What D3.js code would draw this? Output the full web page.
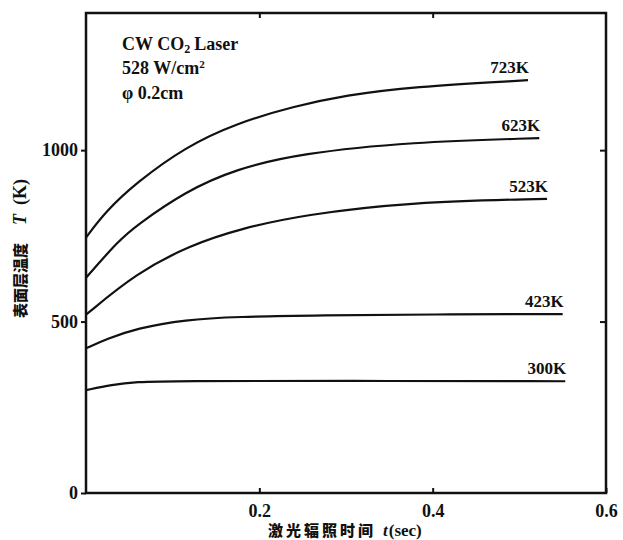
<!DOCTYPE html>
<html>
<head>
<meta charset="utf-8">
<script src="https://d3js.org/d3.v7.min.js"></script>
<style>
  body { margin: 0; background: #fff; }
  text { font-family: "Liberation Serif", "DejaVu Serif", serif; font-weight: bold; fill: #111; }
  .cjk { font-family: "Noto Sans CJK SC", sans-serif; font-weight: 900; }
</style>
</head>
<body>
<div id="chart"></div>
<script>
// curve data: [t (sec), T (K)]
var labels = ["723K", "623K", "523K", "423K", "300K"];
var curve723 = [[0, 745], [0.023, 822], [0.058, 905], [0.115, 1010], [0.173, 1078], [0.24, 1128], [0.3, 1160], [0.375, 1185], [0.51, 1204]];
var curve623 = [[0, 628], [0.038, 737], [0.058, 780], [0.115, 880], [0.173, 945], [0.247, 990], [0.375, 1024], [0.523, 1035]];
var curve523 = [[0, 520], [0.058, 641], [0.12, 723], [0.18, 772], [0.25, 811], [0.375, 849], [0.532, 858]];
var curve423 = [[0, 422], [0.025, 450], [0.058, 480], [0.115, 506], [0.173, 514], [0.27, 518], [0.4, 521], [0.55, 522]];
var curve300 = [[0, 300], [0.03, 316], [0.058, 324], [0.1, 327], [0.3, 327], [0.553, 326]];
var curves = [curve723, curve623, curve523, curve423, curve300];

var xTicks = [0.2, 0.4, 0.6];
var yTicks = [0, 500, 1000];

var margin = {top: 13, right: 17, bottom: 47, left: 86},
    width = 623 - margin.left - margin.right,
    height = 540 - margin.top - margin.bottom;

var svg = d3.select("#chart")
    .append("svg")
    .attr("width", 623)
    .attr("height", 540)
    .append("g")
    .attr("transform", "translate(" + margin.left + "," + margin.top + ")");

var x = d3.scaleLinear().domain([0, 0.6]).range([0, width]);
var y = d3.scaleLinear().domain([0, 1400]).range([height, 0]);

// frame
svg.append("rect")
    .attr("x", 0).attr("y", 0)
    .attr("width", width).attr("height", height)
    .attr("fill", "none")
    .attr("stroke", "#111")
    .attr("stroke-width", 2.5);

// left axis: outward ticks
svg.append("g")
    .call(d3.axisLeft(y).tickValues(yTicks).tickSize(5).tickPadding(3).tickFormat(d3.format("d")))
    .call(g => g.select(".domain").remove())
    .call(g => g.selectAll("line").attr("stroke", "#111").attr("stroke-width", 2))
    .call(g => g.selectAll("text").style("font-size", "18px").attr("fill", "#111"));

// bottom axis: inward ticks
svg.append("g")
    .attr("transform", "translate(0," + height + ")")
    .call(d3.axisBottom(x).tickValues(xTicks).tickSize(-5).tickPadding(11).tickFormat(d3.format(".1f")))
    .call(g => g.select(".domain").remove())
    .call(g => g.selectAll("line").attr("stroke", "#111").attr("stroke-width", 2))
    .call(g => g.selectAll("text").style("font-size", "18px").attr("fill", "#111"));

// top + right inner ticks
svg.append("g")
    .call(d3.axisTop(x).tickValues(xTicks.slice(0, 2)).tickSize(-5).tickFormat(""))
    .call(g => g.select(".domain").remove())
    .call(g => g.selectAll("line").attr("stroke", "#111").attr("stroke-width", 2));
svg.append("g")
    .attr("transform", "translate(" + width + ",0)")
    .call(d3.axisRight(y).tickValues(yTicks.slice(1)).tickSize(-6).tickFormat(""))
    .call(g => g.select(".domain").remove())
    .call(g => g.selectAll("line").attr("stroke", "#111").attr("stroke-width", 2));

var line = d3.line()
    .x(function(d) { return x(d[0]); })
    .y(function(d) { return y(d[1]); })
    .curve(d3.curveBasis);

svg.selectAll(".curve")
    .data(curves)
    .enter()
    .append("path")
    .attr("class", "curve")
    .attr("d", line)
    .attr("fill", "none")
    .attr("stroke", "#111")
    .attr("stroke-width", 2.2);

// curve labels at end of each line
svg.selectAll(".lbl")
    .data(curves)
    .enter()
    .append("text")
    .attr("class", "lbl")
    .attr("x", function(d) { return x(d[d.length - 1][0]) + 1; })
    .attr("y", function(d) { return y(d[d.length - 1][1]) - 7; })
    .attr("text-anchor", "end")
    .style("font-size", "17px")
    .text(function(d, i) { return labels[i]; });

// annotation
var note = svg.append("g").attr("transform", "translate(36,0)");
var t1 = note.append("text").attr("y", 37).style("font-size", "18px");
t1.append("tspan").text("CW CO");
t1.append("tspan").attr("dy", 3).style("font-size", "12px").text("2");
t1.append("tspan").attr("dy", -3).attr("dx", 4).text("Laser");
var t2 = note.append("text").attr("y", 61).style("font-size", "18px");
t2.append("tspan").text("528 W/cm");
t2.append("tspan").attr("dy", -6).style("font-size", "11px").text("2");
note.append("text").attr("y", 86).style("font-size", "18px").text("\u03c6 0.2cm");

// axis titles
var xt = svg.append("text")
    .attr("x", 182)
    .attr("y", height + 43)
    .style("font-size", "15px");
xt.append("tspan").attr("class", "cjk").style("letter-spacing", "3px").text("激光辐照时间");
xt.append("tspan").attr("dx", 7).style("font-style", "italic").style("font-size", "17px").text("t");
xt.append("tspan").attr("dx", 1).style("font-size", "17px").text("(sec)");

var yt = svg.append("text")
    .attr("transform", "translate(-60," + (y(0) - 175) + ") rotate(-90)")
    .style("font-size", "15px");
yt.append("tspan").attr("class", "cjk").text("表面层温度");
yt.append("tspan").attr("dx", 18).style("font-style", "italic").style("font-size", "18px").text("T");
yt.append("tspan").attr("dx", 9).style("font-size", "18px").text("(K)");
</script>
</body>
</html>
